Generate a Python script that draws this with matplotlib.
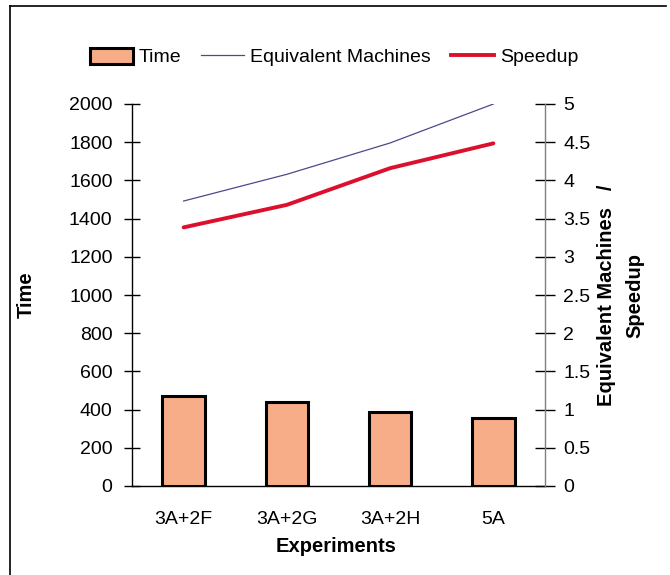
import numpy as np
import matplotlib
matplotlib.use("Agg")
import matplotlib.pyplot as plt
from matplotlib.patches import Patch
from matplotlib.lines import Line2D

plt.rcParams["font.family"] = ["Liberation Sans", "DejaVu Sans"]

# Data
experiments = ["3A+2F", "3A+2G", "3A+2H", "5A"]
time_vals = [473, 442, 387, 358]
equiv_machines = [3.73, 4.08, 4.49, 5.0]
speedup = [3.385, 3.68, 4.16, 4.485]

BAR_COLOR = "#F7AD87"
EQ_COLOR = "#4A4A8C"
SPEED_COLOR = "#DC0F2D"

fig = plt.figure(figsize=(6.7, 5.75), dpi=100)
W, H = 670, 575
ax = fig.add_axes([132 / W, 1 - 486 / H, (545 - 132) / W, (486 - 104) / H])
ax2 = ax.twinx()

x = np.arange(len(experiments))
ax.bar(x, time_vals, width=0.41, color=BAR_COLOR, edgecolor="black", linewidth=2.2, zorder=3)
ax2.plot(x, equiv_machines, color=EQ_COLOR, lw=0.9)
ax2.plot(x, speedup, color=SPEED_COLOR, lw=2.8, solid_capstyle="round")

ax.set_xlim(-0.5, len(experiments) - 0.5)
ax.set_ylim(0, 2000)
ax2.set_ylim(0, 5)
ax.set_yticks(np.arange(0, 2001, 200))
ax2.set_yticks(np.arange(0, 5.01, 0.5))
ax2.set_yticklabels(["0", "0.5", "1", "1.5", "2", "2.5", "3", "3.5", "4", "4.5", "5"])
ax.set_xticks(x)
ax.set_xticklabels(experiments)

for a in (ax, ax2):
    a.spines["top"].set_visible(False)
ax.spines["right"].set_visible(False)
ax2.spines["left"].set_visible(False)
ax2.spines["bottom"].set_visible(False)
ax2.spines["right"].set_color("#808080")
ax2.spines["right"].set_linewidth(1.0)
ax.spines["left"].set_linewidth(1.0)
ax.spines["bottom"].set_linewidth(1.0)

ax.tick_params(axis="y", direction="inout", length=12, width=1.0, pad=8, labelsize=14)
ax2.tick_params(axis="y", direction="inout", length=14, width=1.0, pad=6, labelsize=14,
                color="black")
ax.tick_params(axis="x", length=0, pad=18, labelsize=14)

fig.text(26 / W, 1 - 295 / H, "Time", rotation=90, ha="center", va="center",
         fontsize=14.5, fontweight="bold")
fig.text(336 / W, 1 - 547 / H, "Experiments", ha="center", va="center",
         fontsize=14.5, fontweight="bold")
fig.text(621 / W, 1 - 295 / H, "Equivalent Machines   /\nSpeedup", rotation=90,
         ha="center", va="center", multialignment="center", linespacing=1.6,
         fontsize=14.5, fontweight="bold")

handles = [
    Patch(facecolor=BAR_COLOR, edgecolor="black", linewidth=2.2),
    Line2D([0], [0], color=EQ_COLOR, lw=0.9),
    Line2D([0], [0], color=SPEED_COLOR, lw=2.8),
]
fig.legend(handles, ["Time", "Equivalent Machines", "Speedup"], loc="center",
           bbox_to_anchor=(334 / W, 1 - 57 / H), ncol=3, frameon=False, fontsize=14,
           handlelength=2.2, handleheight=0.9, handletextpad=0.3, columnspacing=1.05)

# outer frame (left and top edges visible in the reference)
fig.add_artist(Line2D([10 / W, 10 / W], [0, 1 - 6 / H], transform=fig.transFigure,
                      color="black", lw=1.2))
fig.add_artist(Line2D([10 / W, 666 / W], [1 - 6 / H, 1 - 6 / H], transform=fig.transFigure,
                      color="black", lw=1.2))

fig.savefig("out.png", dpi=100)
